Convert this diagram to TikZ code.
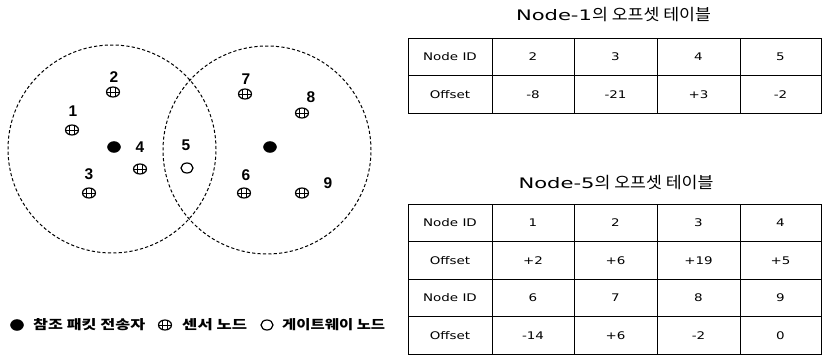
\documentclass[tikz,border=0pt]{standalone}
\usepackage{fontspec}
\usepackage{graphicx}
\newfontfamily\kr{Noto Sans CJK KR}
\newfontfamily\lab{Liberation Sans}
\newfontfamily\dv{DejaVu Sans}
\newcommand\widen[2]{\scalebox{#1}[1]{#2}}
\newcommand\fitw[2]{\resizebox{#1}{\height}{#2}}
\newcommand\celltxt[1]{\widen{1.28}{#1}}
\usetikzlibrary{shapes.geometric}
\begin{document}
\begin{tikzpicture}[x=1pt,y=-1pt,
  rangecirc/.style={draw, dashed, dash pattern=on 3.2pt off 2.2pt, line width=1pt},
  refnode/.style={ellipse, fill=black, draw=black, minimum width=13pt, minimum height=11pt, inner sep=0},
  gwnode/.style={ellipse, draw=black, line width=1.2pt, fill=white, minimum width=12pt, minimum height=10pt, inner sep=0},
  sensor/.style={ellipse, draw=black, line width=1.2pt, minimum width=13pt, minimum height=10pt, inner sep=0,
    path picture={
      \draw[line width=1pt] (path picture bounding box.west) -- (path picture bounding box.east);
      \draw[line width=1pt] ([xshift=-2.2pt]path picture bounding box.north) -- ([xshift=-2.2pt]path picture bounding box.south);
      \draw[line width=1pt] ([xshift=2.2pt]path picture bounding box.north) -- ([xshift=2.2pt]path picture bounding box.south);}},
  numlab/.style={font=\lab\bfseries\fontsize{15.5}{16}\selectfont, inner sep=0},
  legtext/.style={font=\kr\bfseries\fontsize{13}{13}\selectfont, anchor=west, inner sep=0},
  ttl/.style={font=\kr\fontsize{16}{16}\selectfont, inner sep=0},
  cell/.style={draw=black, line width=0.8pt, inner sep=0, font=\dv\fontsize{10.5}{11}\selectfont},
  cA/.style={cell, minimum width=84pt},
  cB/.style={cell, minimum width=82pt},
  cC/.style={cell, minimum width=83pt},
  cD/.style={cell, minimum width=83pt},
  cE/.style={cell, minimum width=81pt},
  rh/.style={minimum height=37.5pt}
]
\useasboundingbox[fill=white] (0,0) rectangle (827,357);

% range circles
\coordinate (c1) at (112,149);
\coordinate (c2) at (267,150);
\draw[rangecirc] (c1) circle[radius=104pt];
\draw[rangecirc] (c2) circle[radius=104pt];

% reference senders
\node[refnode] (r1) at (114,147) {};
\node[refnode] (r2) at (270,147) {};

% sensors
\node[sensor] (s1) at (72,130) {};
\node[sensor] (s2) at (113,92) {};
\node[sensor] (s3) at (89,193) {};
\node[sensor] (s4) at (140,169) {};
\node[sensor] (s6) at (244,193) {};
\node[sensor] (s7) at (245,94) {};
\node[sensor] (s8) at (302,113) {};
\node[sensor] (s9) at (302,193) {};
% gateway
\node[gwnode] (g5) at (187,168) {};

% labels
\node[numlab] (l1) at (73,111) {1};
\node[numlab] (l2) at (114,77) {2};
\node[numlab] (l3) at (89,174) {3};
\node[numlab] (l4) at (140,147) {4};
\node[numlab] (l5) at (186,145) {5};
\node[numlab] (l6) at (246,175) {6};
\node[numlab] (l7) at (246,79) {7};
\node[numlab] (l8) at (311,97) {8};
\node[numlab] (l9) at (328,183) {9};

% legend
\node[refnode] (lg1) at (17,325) {};
\node[legtext] (lt1) at (33,325) {\fitw{112pt}{참조 패킷 전송자}};
\node[sensor] (lg2) at (165,325) {};
\node[legtext] (lt2) at (182,325) {\fitw{65pt}{센서 노드}};
\node[gwnode] (lg3) at (267,325) {};
\node[legtext] (lt3) at (282,325) {\fitw{103pt}{게이트웨이 노드}};

% table 1
\node[ttl] (t1title) at (613.5,15) {\fitw{76pt}{\dv\fontsize{14.5}{15}\selectfont Node-1}\fitw{119pt}{의 오프셋 테이블}};
\node[cA,rh] (a11) at (450,57) {\celltxt{Node ID}};
\node[cB,rh] (a12) at (533,57) {\celltxt{2}};
\node[cC,rh] (a13) at (615.5,57) {\celltxt{3}};
\node[cD,rh] (a14) at (698.5,57) {\celltxt{4}};
\node[cE,rh] (a15) at (780.5,57) {\celltxt{5}};
\node[cA,rh] (a21) at (450,94.5) {\celltxt{Offset}};
\node[cB,rh] (a22) at (533,94.5) {\celltxt{-8}};
\node[cC,rh] (a23) at (615.5,94.5) {\celltxt{-21}};
\node[cD,rh] (a24) at (698.5,94.5) {\celltxt{+3}};
\node[cE,rh] (a25) at (780.5,94.5) {\celltxt{-2}};

% table 2
\node[ttl] (t2title) at (616,183) {\fitw{76pt}{\dv\fontsize{14.5}{15}\selectfont Node-5}\fitw{119pt}{의 오프셋 테이블}};
\node[cA,rh] (b11) at (450,223) {\celltxt{Node ID}};
\node[cB,rh] (b12) at (533,223) {\celltxt{1}};
\node[cC,rh] (b13) at (615.5,223) {\celltxt{2}};
\node[cD,rh] (b14) at (698.5,223) {\celltxt{3}};
\node[cE,rh] (b15) at (780.5,223) {\celltxt{4}};
\node[cA,rh] (b21) at (450,260.5) {\celltxt{Offset}};
\node[cB,rh] (b22) at (533,260.5) {\celltxt{+2}};
\node[cC,rh] (b23) at (615.5,260.5) {\celltxt{+6}};
\node[cD,rh] (b24) at (698.5,260.5) {\celltxt{+19}};
\node[cE,rh] (b25) at (780.5,260.5) {\celltxt{+5}};
\node[cA,rh] (b31) at (450,298) {\celltxt{Node ID}};
\node[cB,rh] (b32) at (533,298) {\celltxt{6}};
\node[cC,rh] (b33) at (615.5,298) {\celltxt{7}};
\node[cD,rh] (b34) at (698.5,298) {\celltxt{8}};
\node[cE,rh] (b35) at (780.5,298) {\celltxt{9}};
\node[cA,rh] (b41) at (450,335.5) {\celltxt{Offset}};
\node[cB,rh] (b42) at (533,335.5) {\celltxt{-14}};
\node[cC,rh] (b43) at (615.5,335.5) {\celltxt{+6}};
\node[cD,rh] (b44) at (698.5,335.5) {\celltxt{-2}};
\node[cE,rh] (b45) at (780.5,335.5) {\celltxt{0}};
\end{tikzpicture}
\end{document}
